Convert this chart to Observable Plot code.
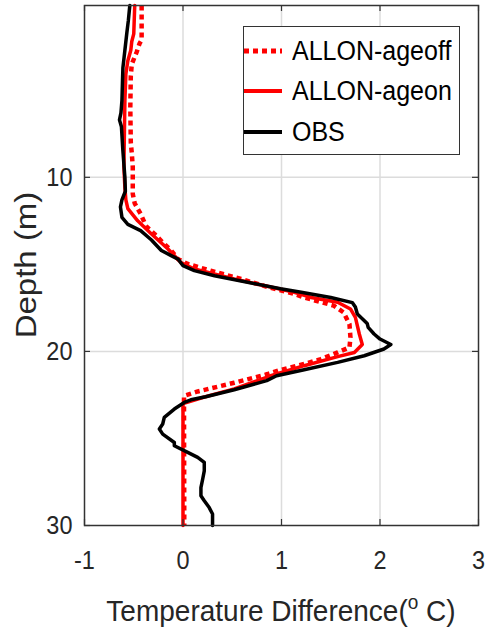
<!DOCTYPE html>
<html>
<head>
<meta charset="utf-8">
<script src="https://cdn.jsdelivr.net/npm/d3@7"></script>
<script src="https://cdn.jsdelivr.net/npm/@observablehq/plot@0.6"></script>
<style>
  html, body { margin: 0; padding: 0; background: #fff; }
  #wrap { position: relative; width: 487px; height: 632px; font-family: "Liberation Sans", Arial, sans-serif; color: #262626; }
  #wrap svg { position: absolute; left: 0; top: 0; }
  .xlabel { position: absolute; left: 84px; width: 394px; top: 598px; font-size: 28px; line-height: 1; text-align: center; white-space: nowrap; transform: scaleY(1.08); transform-origin: 50% 85%; }
  .xlabel sup { font-size: 19px; vertical-align: 11px; line-height: 0; }
  .ylabel { position: absolute; left: 26px; top: 265px; font-size: 30px; line-height: 1; white-space: nowrap; transform: translate(-50%, -50%) rotate(-90deg) scaleX(1.1); }
  #legend { position: absolute; left: 243px; top: 26px; width: 217px; height: 129px; box-sizing: border-box; border: 1.5px solid #333; background: #fff; }
  .entry-line { position: absolute; left: 4px; }
  .entry-text { position: absolute; left: 48px; font-size: 25px; line-height: 1; color: #000; white-space: nowrap; transform: scaleY(1.08); transform-origin: 0 85%; }
</style>
</head>
<body>
<div id="wrap"></div>
<script>
// ---- data ----
const seriesNames = ["ALLON-ageoff", "ALLON-ageon", "OBS"];
const xTicks = [-1, 0, 1, 2, 3];
const yTicks = [10, 20, 30];
const xLabel = "Temperature Difference(";
const yLabel = "Depth (m)";

const depthOff = [0.13,2.1,2.3,2.8,3.5,4.2,6.0,8.0,8.6,9.4,10.95,11.5,12.1,12.8,13.25,13.74,14.2,14.7,14.98,15.36,15.84,16.35,16.7,16.9,17.37,17.76,18.43,19.2,19.77,20.06,20.44,20.72,21.1,21.3,21.8,22.03,22.3,22.55,30];
const tempOff  = [-0.42,-0.42,-0.44,-0.47,-0.52,-0.53,-0.535,-0.53,-0.52,-0.51,-0.51,-0.49,-0.43,-0.375,-0.29,-0.206,-0.12,-0.05,0.05,0.28,0.59,0.89,1.13,1.23,1.53,1.63,1.69,1.70,1.69,1.57,1.40,1.23,0.97,0.86,0.52,0.35,0.15,0.01,0.013];

const depthOn = [0.13,1.76,2.2,2.7,3.3,4.06,5.6,7.5,9.4,10.6,11.3,11.8,12.5,13.25,14.1,14.9,15.27,15.84,16.3,16.6,16.9,17.18,17.56,18.05,19.0,19.6,20.06,20.3,20.82,21.4,22.15,22.65,23.0,26.0,30];
const tempOn  = [-0.49,-0.50,-0.52,-0.53,-0.56,-0.58,-0.59,-0.595,-0.60,-0.59,-0.58,-0.56,-0.46,-0.32,-0.155,-0.02,0.115,0.52,0.89,1.13,1.30,1.57,1.70,1.75,1.79,1.82,1.74,1.57,1.23,0.89,0.52,0.2,0.0,0.0,0.0];

const depthObs = [0.13,1.0,1.7,2.7,3.7,4.6,5.6,6.3,6.7,7.1,8.5,10.0,10.8,11.3,11.7,12.3,12.7,13.06,13.6,14.2,14.5,14.7,15.07,15.36,15.65,16.03,16.4,16.6,16.9,17.2,17.45,17.85,18.4,18.62,19.0,19.29,19.6,19.86,20.25,20.63,21.05,21.4,21.68,22.2,22.6,22.78,22.93,23.31,23.79,24.17,24.46,24.75,25.23,25.42,25.8,26.09,26.38,26.86,27.33,27.82,28.29,28.58,28.97,29.34,30];
const tempObs  = [-0.54,-0.555,-0.57,-0.59,-0.61,-0.615,-0.62,-0.63,-0.645,-0.625,-0.61,-0.59,-0.585,-0.62,-0.635,-0.62,-0.56,-0.43,-0.32,-0.22,-0.12,-0.05,0.0,0.115,0.32,0.655,0.99,1.2,1.5,1.72,1.75,1.77,1.87,1.88,1.94,2.0,2.11,2.04,1.84,1.57,1.23,0.95,0.85,0.52,0.23,0.08,0.013,-0.088,-0.19,-0.206,-0.24,-0.206,-0.088,-0.088,0.048,0.149,0.216,0.216,0.2,0.182,0.182,0.216,0.266,0.30,0.30];

// ---- build tables ----
const toRows = (ds, ts) => ds.map((d, i) => ({d, t: ts[i]}));
const offRows = toRows(depthOff, tempOff);
const onRows = toRows(depthOn, tempOn);
const obsRows = toRows(depthObs, tempObs);

const styles = [
  {stroke: "#ff0000", strokeWidth: 4.5, dash: "5,4"},
  {stroke: "#ff0000", strokeWidth: 3.5, dash: null},
  {stroke: "#000000", strokeWidth: 3.5, dash: null}
];

const W = 487, H = 632, mL = 84, mR = 9, mT = 5, mB = 107;
const innerW = W - mL - mR, innerH = H - mT - mB;
const axisColor = "#333333";

const chart = Plot.plot({
  width: W, height: H,
  marginLeft: mL, marginRight: mR, marginTop: mT, marginBottom: mB,
  style: {background: "transparent", fontFamily: "'Liberation Sans', Arial, sans-serif", color: "#262626"},
  x: {domain: [xTicks[0], xTicks[xTicks.length - 1]]},
  y: {domain: [0.13, 30], reverse: true},
  marks: [
    Plot.gridX(xTicks.slice(1, -1), {stroke: "#dcdcdc", strokeOpacity: 1, strokeWidth: 1.5}),
    Plot.gridY(yTicks.slice(0, -1), {stroke: "#dcdcdc", strokeOpacity: 1, strokeWidth: 1.5}),
    Plot.line(offRows, {x: "t", y: "d", stroke: styles[0].stroke, strokeWidth: styles[0].strokeWidth, strokeDasharray: styles[0].dash, strokeLinecap: "butt"}),
    Plot.line(onRows, {x: "t", y: "d", stroke: styles[1].stroke, strokeWidth: styles[1].strokeWidth}),
    Plot.line(obsRows, {x: "t", y: "d", stroke: styles[2].stroke, strokeWidth: styles[2].strokeWidth}),
    Plot.axisX(xTicks, {tickSize: 0, tickPadding: 25, fontSize: 23.5, label: null, tickFormat: d => String(d), fill: "#262626"}),
    Plot.axisY(yTicks, {tickSize: 0, tickPadding: 12, fontSize: 23.5, label: null, tickFormat: d => String(d), fill: "#262626"}),
    Plot.tickX(xTicks, {x: d => d, insetTop: innerH - 6, stroke: axisColor, strokeWidth: 1.2}),
    Plot.tickX(xTicks, {x: d => d, insetBottom: innerH - 6, stroke: axisColor, strokeWidth: 1.2}),
    Plot.tickY(yTicks, {y: d => d, insetRight: innerW - 6, stroke: axisColor, strokeWidth: 1.2}),
    Plot.tickY(yTicks, {y: d => d, insetLeft: innerW - 6, stroke: axisColor, strokeWidth: 1.2}),
    Plot.frame({stroke: axisColor, strokeWidth: 1.5})
  ]
});

// slight vertical stretch of tick labels, as in the reference
chart.querySelectorAll("text").forEach(t => {
  const tr = t.getAttribute("transform");
  if (tr) {
    t.setAttribute("transform", tr + " scale(1,1.12)");
  } else {
    const x = +t.getAttribute("x") || 0, y = +t.getAttribute("y") || 0;
    t.setAttribute("transform", `translate(${x},${y}) scale(1,1.12) translate(${-x},${-y})`);
  }
});

const wrap = document.getElementById("wrap");
wrap.appendChild(chart);

// axis titles
const xl = document.createElement("div");
xl.className = "xlabel";
xl.appendChild(document.createTextNode(xLabel));
const sup = document.createElement("sup");
sup.textContent = "o";
xl.appendChild(sup);
xl.appendChild(document.createTextNode(" C)"));
wrap.appendChild(xl);

const yl = document.createElement("div");
yl.className = "ylabel";
yl.textContent = yLabel;
wrap.appendChild(yl);

// legend
const legend = document.createElement("div");
legend.id = "legend";
const centers = [24, 64, 105];
seriesNames.forEach((name, i) => {
  const s = styles[i];
  const svgNS = "http://www.w3.org/2000/svg";
  const sv = document.createElementNS(svgNS, "svg");
  sv.setAttribute("width", 38);
  sv.setAttribute("height", 10);
  sv.setAttribute("class", "entry-line");
  sv.style.top = (centers[i] - 5) + "px";
  const ln = document.createElementNS(svgNS, "line");
  ln.setAttribute("x1", 0); ln.setAttribute("x2", 38);
  ln.setAttribute("y1", 5); ln.setAttribute("y2", 5);
  ln.setAttribute("stroke", s.stroke);
  ln.setAttribute("stroke-width", s.dash ? 5 : 4);
  if (s.dash) ln.setAttribute("stroke-dasharray", s.dash);
  sv.appendChild(ln);
  legend.appendChild(sv);
  const tx = document.createElement("div");
  tx.className = "entry-text";
  tx.style.top = (centers[i] - 12) + "px";
  tx.textContent = name;
  legend.appendChild(tx);
});
wrap.appendChild(legend);
</script>
</body>
</html>
